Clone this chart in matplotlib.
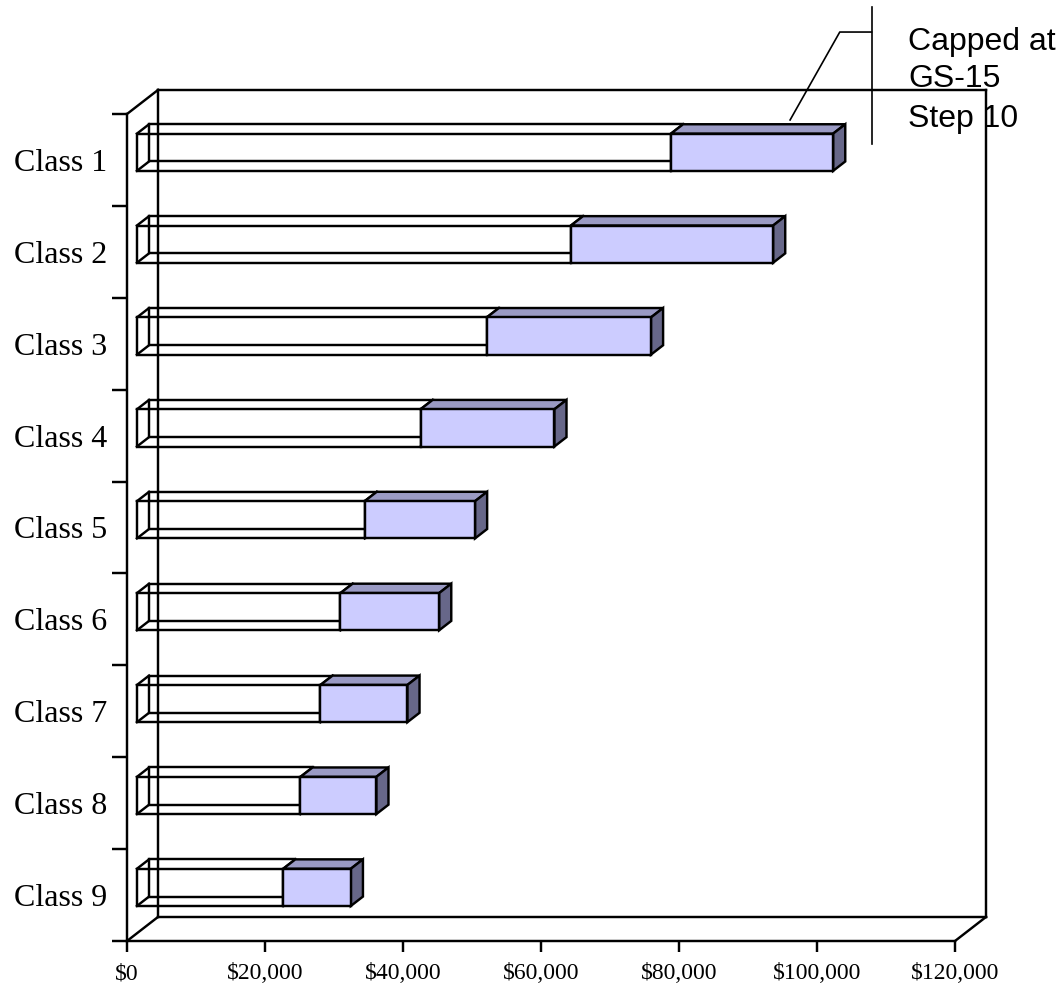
import matplotlib
matplotlib.use("Agg")
import matplotlib.pyplot as plt
from matplotlib.patches import Polygon
from matplotlib.ticker import FixedLocator, FuncFormatter, NullFormatter

# ---- data -------------------------------------------------------------
classes = ["Class 1", "Class 2", "Class 3", "Class 4", "Class 5",
           "Class 6", "Class 7", "Class 8", "Class 9"]
base_pay = [77400, 62900, 50700, 41100, 33000, 29500, 26600, 23700, 21200]
capped_extra = [23500, 29300, 23800, 19400, 16000, 14300, 12600, 11000, 9800]
x_ticks = [0, 20000, 40000, 60000, 80000, 100000, 120000]
callout_lines = ["Capped at", "GS-15", "Step 10"]

# ---- figure / axes ----------------------------------------------------
W, H, DPI = 1057, 991, 100
fig = plt.figure(figsize=(W / DPI, H / DPI), dpi=DPI)
fig.patch.set_facecolor("white")
ax = fig.add_axes([127 / W, 1 - 941 / H, 828 / W, 827 / H])
XMAX = x_ticks[-1]
N = len(classes)
ax.set_xlim(0, XMAX)
ax.set_ylim(0, N)
ax.set_facecolor("none")

LW = 1.75
K = "black"

# depth of the 3-D box (data units) and the slab occupied by bars
DX, DY = 4500, 0.262
Z0, Z1 = 0.32, 0.71
BAR_H = 0.405

FRONT = "#ccccff"
TOP = "#9a9ac4"
SIDE = "#676789"

# ---- walls --------------------------------------------------------------
def seg(p, q, z=1):
    ax.plot([p[0], q[0]], [p[1], q[1]], color=K, lw=LW, clip_on=False,
            zorder=z, solid_capstyle="projecting")

seg((DX, DY), (DX, N + DY))
seg((DX, N + DY), (XMAX + DX, N + DY))
seg((XMAX + DX, DY), (XMAX + DX, N + DY))
seg((DX, DY), (XMAX + DX, DY))
seg((0, N), (DX, N + DY))
seg((0, 0), (DX, DY))
seg((XMAX, 0), (XMAX + DX, DY))

# ---- bars ---------------------------------------------------------------
def corners(x0, x1, yc, z):
    y0, y1 = yc - BAR_H / 2 + z * DY, yc + BAR_H / 2 + z * DY
    return (x0 + z * DX, x1 + z * DX, y0, y1)

for j, (b, e) in enumerate(zip(base_pay, capped_extra)):
    yc = N - 0.5 - j
    # base pay: open wireframe box
    fx0, fx1, fy0, fy1 = corners(0, b, yc, Z0)
    bx0, bx1, by0, by1 = corners(0, b, yc, Z1)
    for (xa, xb, ya, yb) in [(fx0, fx1, fy0, fy1), (bx0, bx1, by0, by1)]:
        ax.add_patch(Polygon([(xa, ya), (xb, ya), (xb, yb), (xa, yb)],
                             closed=True, fill=False, ec=K, lw=LW,
                             zorder=2, clip_on=False, joinstyle="miter"))
    for (pa, pb) in [((fx0, fy0), (bx0, by0)), ((fx0, fy1), (bx0, by1)),
                     ((fx1, fy0), (bx1, by0)), ((fx1, fy1), (bx1, by1))]:
        seg(pa, pb, z=2)

    # capped increment: solid shaded box
    t = b + e
    fx0, fx1, fy0, fy1 = corners(b, t, yc, Z0)
    bx0, bx1, by0, by1 = corners(b, t, yc, Z1)
    ax.add_patch(Polygon([(fx0, fy1), (fx1, fy1), (bx1, by1), (bx0, by1)],
                         closed=True, fc=TOP, ec=K, lw=LW, zorder=3,
                         clip_on=False, joinstyle="miter"))
    ax.add_patch(Polygon([(fx1, fy0), (bx1, by0), (bx1, by1), (fx1, fy1)],
                         closed=True, fc=SIDE, ec=K, lw=LW, zorder=3,
                         clip_on=False, joinstyle="miter"))
    ax.add_patch(Polygon([(fx0, fy0), (fx1, fy0), (fx1, fy1), (fx0, fy1)],
                         closed=True, fc=FRONT, ec=K, lw=LW, zorder=4,
                         clip_on=False, joinstyle="miter"))

# ---- axes, ticks and labels --------------------------------------------
for s in ("top", "right"):
    ax.spines[s].set_visible(False)
for s in ("left", "bottom"):
    ax.spines[s].set_linewidth(LW)

ax.xaxis.set_major_locator(FixedLocator(x_ticks))
ax.xaxis.set_major_formatter(FuncFormatter(lambda v, p: f"${v:,.0f}"))
ax.tick_params(axis="x", which="major", direction="out", length=8,
               width=LW, pad=8, labelsize=17)
for lab in ax.get_xticklabels():
    lab.set_fontfamily("Liberation Serif")

ax.yaxis.set_major_locator(FixedLocator(list(range(N + 1))))
ax.yaxis.set_major_formatter(NullFormatter())
ax.yaxis.set_minor_locator(FixedLocator([N - 0.5 - j for j in range(N)]))
ax.yaxis.set_minor_formatter(
    FuncFormatter(lambda v, p: classes[int(round(N - 0.5 - v))]))
ax.tick_params(axis="y", which="major", direction="out", length=11,
               width=LW)
ax.tick_params(axis="y", which="minor", length=0, pad=14.5, labelsize=23)
for lab in ax.get_yticklabels(minor=True):
    lab.set_fontfamily("Liberation Serif")

# ---- callout -----------------------------------------------------------
ax.plot([96100, 103300, 107900], [8.935, 9.892, 9.892], color=K, lw=1.2,
        clip_on=False, zorder=5)
ax.plot([107900, 107900], [10.164, 8.673], color=K, lw=1.2,
        clip_on=False, zorder=5)
for txt, yb in zip(callout_lines, [9.696, 9.293, 8.858]):
    ax.text(113200, yb, txt, fontsize=23, fontfamily="Liberation Sans",
            va="baseline", ha="left", zorder=6, clip_on=False)

fig.savefig("out.png", dpi=DPI)
